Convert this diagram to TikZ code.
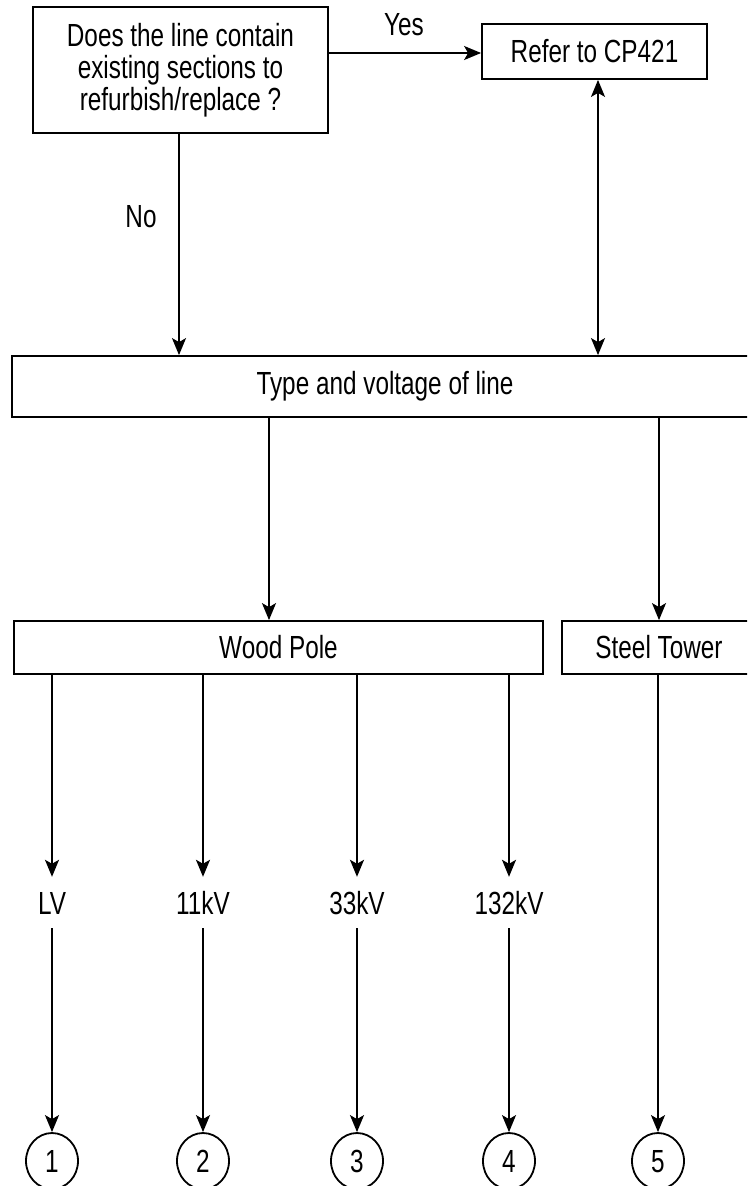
\documentclass[tikz,border=0pt]{standalone}
\usepackage{fontspec}
\setmainfont[FakeStretch=0.76]{Liberation Sans}
\usetikzlibrary{arrows.meta,shapes.geometric}
\begin{document}
\begin{tikzpicture}[x=1pt,y=-1pt,
  box/.style={draw,line width=1.8pt,inner sep=0pt,align=center},
  lbl/.style={inner sep=0pt,minimum height=51pt,minimum width=60pt,text height=23pt,text depth=0pt},
  num/.style={draw,ellipse,line width=1.8pt,inner sep=0pt,minimum width=52pt,minimum height=56pt,text height=23pt,text depth=0pt},
  arr/.style={line width=1.8pt,-{Stealth[length=17pt,width=14pt,inset=4pt]}},
  dblarr/.style={line width=1.8pt,{Stealth[length=17pt,width=14pt,inset=4pt]}-{Stealth[length=17pt,width=14pt,inset=4pt]}},
  font=\fontsize{32}{32}\selectfont]
\clip (0,0) rectangle (747,1186);
\fill[white] (0,0) rectangle (747,1186);
% boxes
\node[box,minimum width=295pt,minimum height=126pt] (Q) at (180.5,70) {Does the line contain\\existing sections to\\refurbish/replace ?};
\node[box,minimum width=225pt,minimum height=55pt] (R) at (594.5,51.5) {Refer to CP421};
\node[box,minimum width=746pt,minimum height=61pt] (T) at (385,386.5) {Type and voltage of line};
\node[box,minimum width=529pt,minimum height=53pt] (W) at (278.5,647.5) {Wood Pole};
\node[box,minimum width=194pt,minimum height=53pt] (S) at (659,647.5) {Steel Tower};
% voltage labels
\node[lbl] (lv) at (52,902.5) {LV};
\node[lbl] (k11) at (203,902.5) {11kV};
\node[lbl] (k33) at (357,902.5) {33kV};
\node[lbl] (k132) at (509,902.5) {132kV};
% circles
\node[num] (c1) at (52,1161) {1};
\node[num] (c2) at (203,1161) {2};
\node[num] (c3) at (357,1161) {3};
\node[num] (c4) at (509,1161) {4};
\node[num] (c5) at (658,1161) {5};
% edge labels
\node (yes) at (404,25) {Yes};
\node (no) at (141,217) {No};
% connectors
\draw[arr] (Q.east |- 0,53) -- (R.west |- 0,53);
\draw[arr] (Q.south -| 179,0) -- (T.north -| 179,0);
\draw[dblarr] (R.south -| 598,0) -- (T.north -| 598,0);
\draw[arr] (T.south -| 269,0) -- (W.north -| 269,0);
\draw[arr] (T.south -| S.north) -- (S.north);
\foreach \a/\c in {lv/c1,k11/c2,k33/c3,k132/c4}{
  \draw[arr] (W.south -| \a.north) -- (\a.north);
  \draw[arr] (\a.south) -- (\c.north);
}
\draw[arr] (S.south -| c5.north) -- (c5.north);
\end{tikzpicture}
\end{document}
